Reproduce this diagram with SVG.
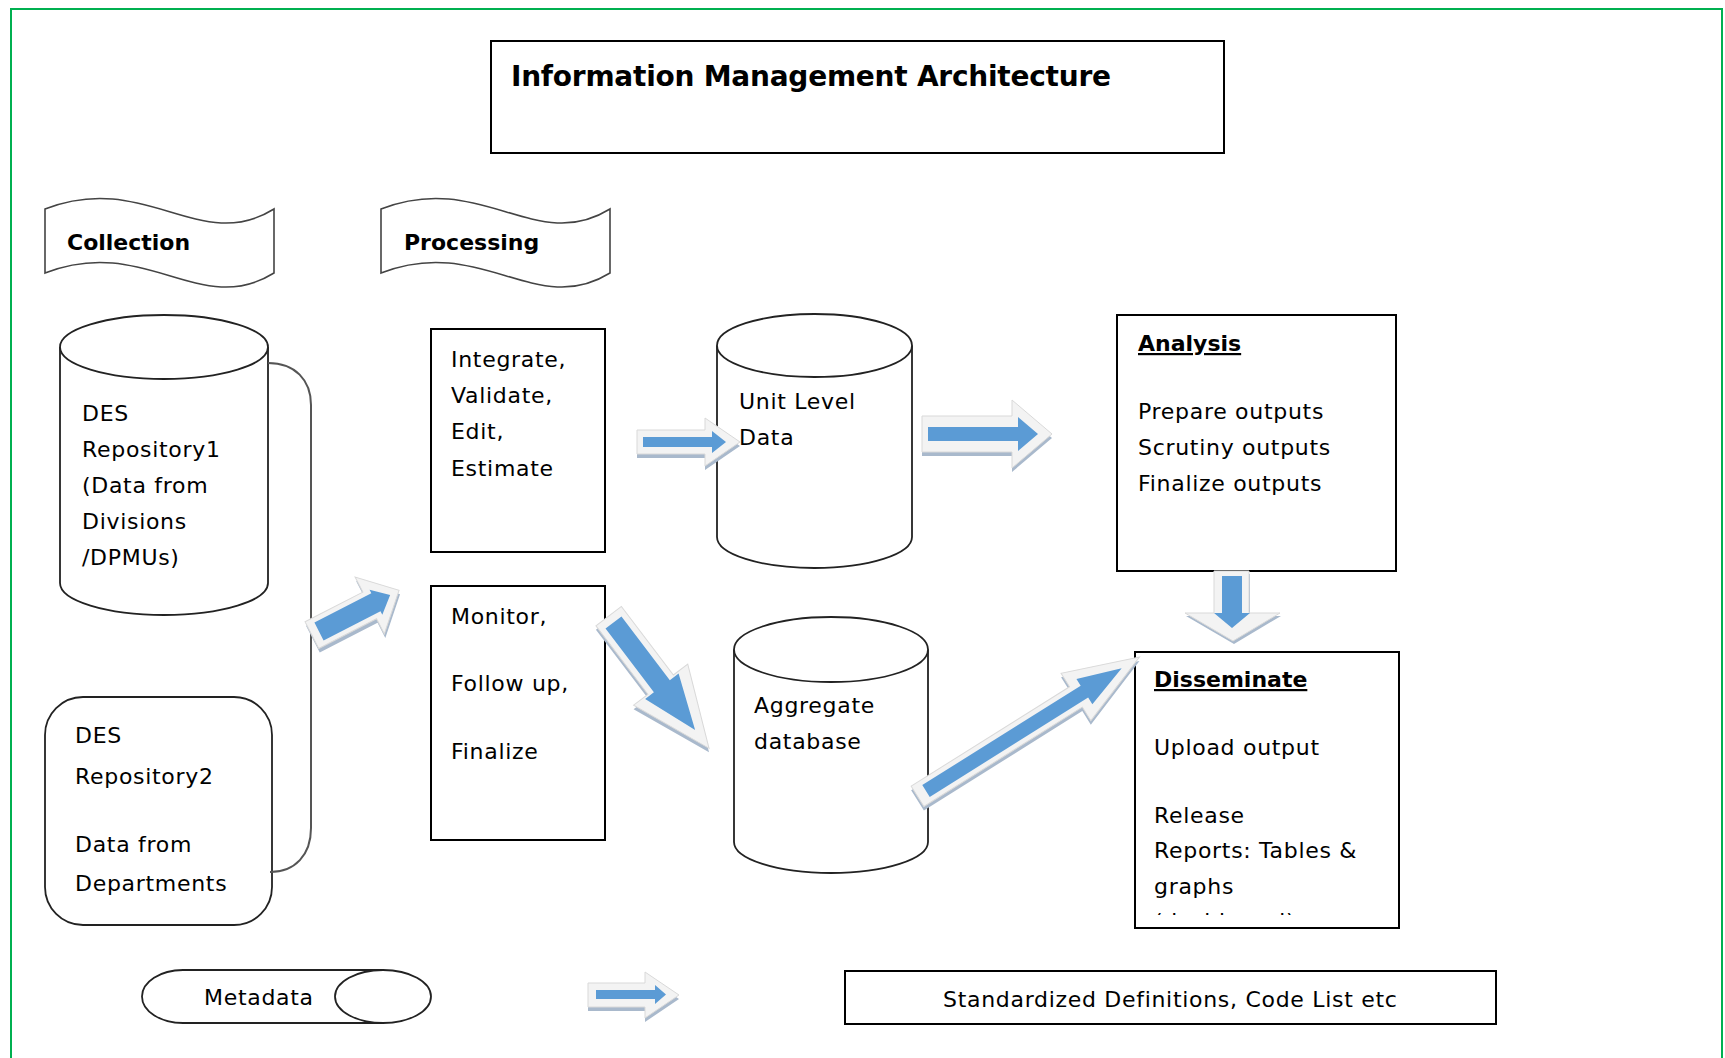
<svg xmlns="http://www.w3.org/2000/svg" xmlns:xlink="http://www.w3.org/1999/xlink" width="1725" height="1058" viewBox="0 0 1725 1058">
<style>
.frame{fill:none;stroke:#00b050;stroke-width:2}
.box{fill:#fff;stroke:#000;stroke-width:2}
.cyl{fill:#fff;stroke:#222;stroke-width:1.8}
.ban{fill:#fff;stroke:#444;stroke-width:1.6}
.br{fill:none;stroke:#555;stroke-width:2}
.t{font-family:"DejaVu Sans",sans-serif;font-size:22px;letter-spacing:0.7px;fill:#000}
.h{font-family:"DejaVu Sans",sans-serif;font-size:22px;font-weight:bold;fill:#000}
.u{text-decoration:underline}
.title{font-family:"DejaVu Sans",sans-serif;font-size:28px;font-weight:bold;fill:#000}
.sh{fill:#a9b9cc}
.ol{fill:#f3f3f3;stroke:#d9d9d9;stroke-width:1}
.bl{fill:#5b9bd5}
</style>
<defs>
<path id="banner" d="M45,209 C145,170 200,255 274,209 L274,273 C200,319 145,234 45,273 Z"/>
<clipPath id="dclip"><rect x="1136" y="653" width="262" height="262"/></clipPath>
</defs>
<rect width="1725" height="1058" fill="#fff"/>
<rect class="frame" x="11" y="9" width="1711" height="1070"/>

<g id="title">
<rect class="box" x="491" y="41" width="733" height="112"/>
<text class="title" x="511" y="86" textLength="600">Information Management Architecture</text>
</g>

<g id="collection">
<use href="#banner" class="ban"/>
<text class="h" x="67" y="250">Collection</text>
</g>
<g id="processing">
<use href="#banner" class="ban" x="336"/>
<text class="h" x="404" y="250">Processing</text>
</g>

<g id="repo1">
<path class="cyl" d="M60,347 L60,583 A104,32 0 0 0 268,583 L268,347"/>
<ellipse class="cyl" cx="164" cy="347" rx="104" ry="32"/>
<text class="t" x="82" y="421">DES</text>
<text class="t" x="82" y="457">Repository1</text>
<text class="t" x="82" y="493">(Data from</text>
<text class="t" x="82" y="529">Divisions</text>
<text class="t" x="82" y="565">/DPMUs)</text>
</g>

<g id="repo2">
<rect class="cyl" x="45" y="697" width="227" height="228" rx="38" ry="38"/>
<text class="t" x="75" y="743">DES</text>
<text class="t" x="75" y="784">Repository2</text>
<text class="t" x="75" y="852">Data from</text>
<text class="t" x="75" y="891">Departments</text>
</g>

<g id="integrate">
<rect class="box" x="431" y="329" width="174" height="223"/>
<text class="t" x="451" y="367">Integrate,</text>
<text class="t" x="451" y="403">Validate,</text>
<text class="t" x="451" y="439">Edit,</text>
<text class="t" x="451" y="476">Estimate</text>
</g>

<g id="monitor">
<rect class="box" x="431" y="586" width="174" height="254"/>
<text class="t" x="451" y="624">Monitor,</text>
<text class="t" x="451" y="691">Follow up,</text>
<text class="t" x="451" y="759">Finalize</text>
</g>

<g id="unitlevel">
<path class="cyl" d="M717,345.5 L717,537 A97.5,31 0 0 0 912,537 L912,345.5"/>
<ellipse class="cyl" cx="814.5" cy="345.5" rx="97.5" ry="31.5"/>
<text class="t" x="739" y="409">Unit Level</text>
<text class="t" x="739" y="445">Data</text>
</g>

<g id="aggregate">
<path class="cyl" d="M734,649.5 L734,842 A97,31 0 0 0 928,842 L928,649.5"/>
<ellipse class="cyl" cx="831" cy="649.5" rx="97" ry="32.5"/>
<text class="t" x="754" y="713">Aggregate</text>
<text class="t" x="754" y="749">database</text>
</g>

<g id="analysis">
<rect class="box" x="1117" y="315" width="279" height="256"/>
<text class="h u" x="1138" y="351">Analysis</text>
<text class="t" x="1138" y="419">Prepare outputs</text>
<text class="t" x="1138" y="455">Scrutiny outputs</text>
<text class="t" x="1138" y="491">Finalize outputs</text>
</g>

<g id="disseminate">
<rect class="box" x="1135" y="652" width="264" height="276"/>
<text class="h u" x="1154" y="687">Disseminate</text>
<text class="t" x="1154" y="755">Upload output</text>
<text class="t" x="1154" y="823">Release</text>
<text class="t" x="1154" y="858">Reports: Tables &amp;</text>
<text class="t" x="1154" y="894">graphs</text>
<text class="t" x="1154" y="929" clip-path="url(#dclip)">(dashboard)</text>
</g>

<g id="metadata">
<path class="cyl" d="M183,970 L383,970 L383,1023 L183,1023 A41,26.5 0 0 1 183,970 Z"/>
<ellipse class="cyl" cx="383" cy="996.5" rx="48" ry="26.5"/>
<text class="t" x="204" y="1005">Metadata</text>
</g>

<g id="standardized">
<rect class="box" x="845" y="971" width="651" height="53"/>
<text class="t" x="943" y="1007">Standardized Definitions, Code List etc</text>
</g>

<g id="connectors">
<path class="br" d="M268,363 C295,363 311,380 311,405 L311,828 C311,855 295,872 270,872"/>
<g transform="translate(320,635.5) rotate(-27.2)"><polygon class="sh" points="-8,-15 57,-15 57,-32 90,0 57,32 57,15 -8,15"/></g>
<g transform="translate(319,631.5) rotate(-27.2)"><polygon class="ol" points="-8,-15 57,-15 57,-32 90,0 57,32 57,15 -8,15"/><polygon class="bl" points="0,-10 64,-10 64,-14 80,0 64,14 64,10 0,10"/></g>
<polygon class="sh" transform="translate(0,4)" points="637,430 705,430 705,418 740,442 705,466 705,454 637,454"/>
<polygon class="ol" points="637,430 705,430 705,418 740,442 705,466 705,454 637,454"/>
<polygon class="bl" points="643,437 712,437 712,431 726,442 712,453 712,447 643,447"/>
<polygon class="sh" transform="translate(0,4)" points="922,416 1012,416 1012,400 1052,434 1012,468 1012,452 922,452"/>
<polygon class="ol" points="922,416 1012,416 1012,400 1052,434 1012,468 1012,452 922,452"/>
<polygon class="bl" points="928,427 1018,427 1018,417 1038,434 1018,451 1018,441 928,441"/>
<g transform="translate(613.5,626.5) rotate(52.8)"><polygon class="sh" points="-8,-16 78,-16 78,-34 158,0 78,34 78,16 -8,16"/></g>
<g transform="translate(613.5,622.5) rotate(52.8)"><polygon class="ol" points="-8,-16 78,-16 78,-34 158,0 78,34 78,16 -8,16"/><polygon class="bl" points="0,-10 80,-10 80,-21 135,0 80,21 80,10 0,10"/></g>
<g transform="translate(926,795) rotate(-32.1)"><polygon class="sh" points="-10,-12 177,-12 177,-28 252,0 177,28 177,12 -10,12"/></g>
<g transform="translate(926,791) rotate(-32.1)"><polygon class="ol" points="-10,-12 177,-12 177,-28 252,0 177,28 177,12 -10,12"/><polygon class="bl" points="0,-7 187,-7 187,-15 231,0 187,15 187,7 0,7"/></g>
<polygon class="sh" transform="translate(1,3)" points="1214,571 1249,571 1249,613 1280,613 1233,641 1185,613 1214,613"/>
<polygon class="ol" points="1214,571 1249,571 1249,613 1280,613 1233,641 1185,613 1214,613"/>
<polygon class="bl" points="1222,576 1242,576 1242,613 1250,613 1232,628 1214,613 1222,613"/>
<polygon class="sh" transform="translate(0,4)" points="588,983 645,983 645,972 679,995 645,1018 645,1007 588,1007"/>
<polygon class="ol" points="588,983 645,983 645,972 679,995 645,1018 645,1007 588,1007"/>
<polygon class="bl" points="596,990 655,990 655,985 666,994.5 655,1004 655,999 596,999"/>
</g>
</svg>
